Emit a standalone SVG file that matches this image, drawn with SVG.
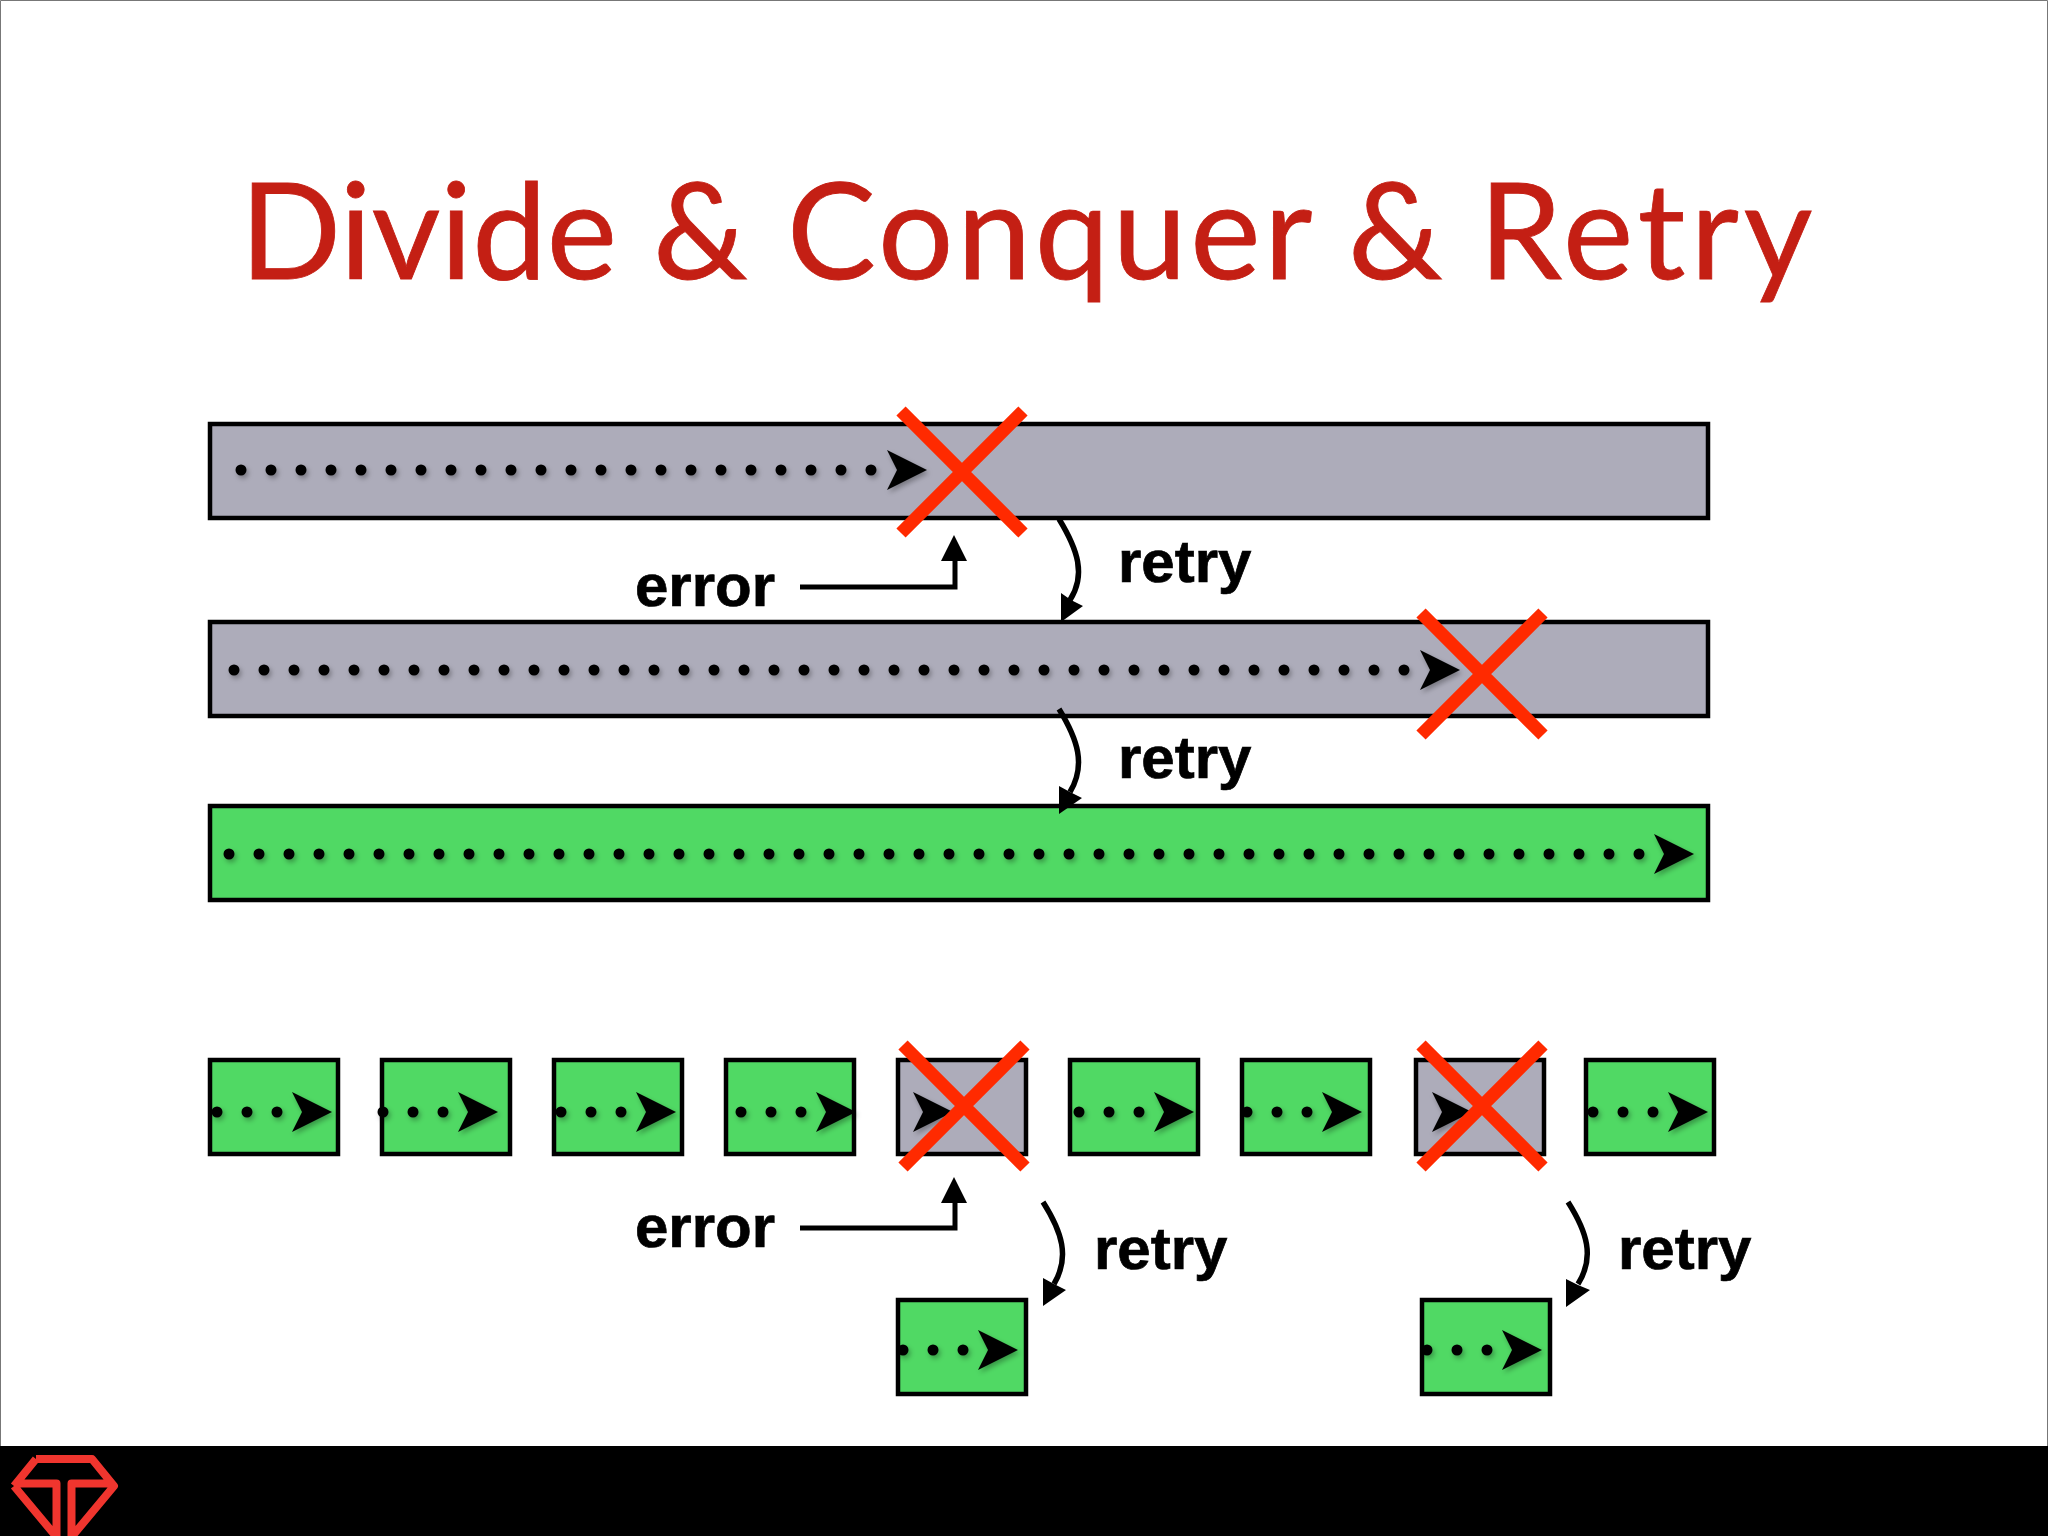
<svg xmlns="http://www.w3.org/2000/svg" width="2048" height="1536" viewBox="0 0 2048 1536">
<defs>
<filter id="sh" filterUnits="userSpaceOnUse" x="-300" y="-1600" width="2700" height="3400"><feDropShadow dx="2" dy="3" stdDeviation="2.5" flood-color="#000" flood-opacity=".3"/></filter>
<path id="arr" d="M0,-20 L40,0 L0,20 L10,0 Z"/>
<path id="xmark" d="M-61,-61 L61,61 M61,-61 L-61,61"/>
<g id="tiny"><circle class="dot" cx="0" cy="0" r="5.5"/><circle class="dot" cx="30" cy="0" r="5.5"/><circle class="dot" cx="60" cy="0" r="5.5"/><use href="#arr" x="75" y="0" class="head"/></g>
</defs>
<style>
text{font-family:"Liberation Sans",Arial,Helvetica,sans-serif;font-weight:700;font-size:60px;fill:#000;stroke:#000;stroke-width:.7px}
.title{font-family:Lato,"Liberation Sans",sans-serif;font-weight:400;font-size:133px;fill:#c41f14;stroke:#c41f14;stroke-width:.8px}
.gray{fill:#adacba;stroke:#000;stroke-width:4.5}
.green{fill:#50d964;stroke:#000;stroke-width:4.5}
.dotline{fill:none;stroke:#000;stroke-width:11;stroke-linecap:round;stroke-dasharray:0 30;filter:url(#sh)}
.dot{fill:#000;filter:url(#sh)}
.head{fill:#000;filter:url(#sh)}
.x{fill:none;stroke:#ff2a00;stroke-width:13}
.elbow{fill:none;stroke:#000;stroke-width:5}
.curve{fill:none;stroke:#000;stroke-width:5.5}
.tip{fill:#000}
</style>
<rect width="2048" height="1536" fill="#fff"/>
<path d="M.5,1446 V.5 H2047.5 V1446" fill="none" stroke="#777" stroke-width="1"/>
<text class="title" y="279"><tspan x="240">Divide</tspan> <tspan x="653">&amp;</tspan> <tspan x="787" letter-spacing="3.5">Conquer</tspan> <tspan x="1348">&amp;</tspan> <tspan x="1479" letter-spacing="5">Retry</tspan></text>

<g id="bar1"><rect class="gray" x="210" y="424" width="1498" height="94"/><line class="dotline" x1="241" y1="470" x2="872" y2="470"/><use class="head" href="#arr" x="887" y="470"/></g>
<g id="bar2"><rect class="gray" x="210" y="622" width="1498" height="94"/><line class="dotline" x1="234" y1="670" x2="1405" y2="670"/><use class="head" href="#arr" x="1420" y="670"/></g>
<g id="bar3"><rect class="green" x="210" y="806" width="1498" height="94"/><line class="dotline" x1="229" y1="854" x2="1640" y2="854"/><use class="head" href="#arr" x="1654" y="854"/></g>

<g id="box1"><rect class="green" x="210" y="1060" width="128" height="94"/><use href="#tiny" x="217" y="1112"/></g>
<g id="box2"><rect class="green" x="382" y="1060" width="128" height="94"/><use href="#tiny" x="383" y="1112"/></g>
<g id="box3"><rect class="green" x="554" y="1060" width="128" height="94"/><use href="#tiny" x="561" y="1112"/></g>
<g id="box4"><rect class="green" x="726" y="1060" width="128" height="94"/><use href="#tiny" x="741" y="1112"/></g>
<g id="box5"><rect class="gray" x="898" y="1060" width="128" height="94"/><use class="head" href="#arr" x="913" y="1112"/></g>
<g id="box6"><rect class="green" x="1070" y="1060" width="128" height="94"/><use href="#tiny" x="1079" y="1112"/></g>
<g id="box7"><rect class="green" x="1242" y="1060" width="128" height="94"/><use href="#tiny" x="1247" y="1112"/></g>
<g id="box8"><rect class="gray" x="1416" y="1060" width="128" height="94"/><use class="head" href="#arr" x="1432" y="1112"/></g>
<g id="box9"><rect class="green" x="1586" y="1060" width="128" height="94"/><use href="#tiny" x="1593" y="1112"/></g>
<g id="box10"><rect class="green" x="898" y="1300" width="128" height="94"/><use href="#tiny" x="903" y="1350"/></g>
<g id="box11"><rect class="green" x="1422" y="1300" width="128" height="94"/><use href="#tiny" x="1427" y="1350"/></g>

<g id="crosses">
<use class="x" href="#xmark" transform="translate(962 472)"/>
<use class="x" href="#xmark" transform="translate(1482 674)"/>
<use class="x" href="#xmark" transform="translate(964 1106)"/>
<use class="x" href="#xmark" transform="translate(1482 1106)"/>
</g>

<g id="connectors">
<path class="elbow" d="M800,587 H955 V555"/><path class="tip" d="M954,535 L967,561 H941 Z"/>
<path class="curve" d="M1059,519 C1078,550 1086,575 1070,600"/><path class="tip" d="M1061,622 V593 L1071,600 L1083,606 Z"/>
<path class="curve" d="M1059,709 C1078,740 1086,765 1070,792"/><path class="tip" d="M1059,814 V786 L1070,792 L1082,798 Z"/>
<path class="elbow" d="M800,1228 H955 V1197"/><path class="tip" d="M954,1177 L967,1203 H941 Z"/>
<path class="curve" d="M1043,1202 C1062,1232 1070,1257 1054,1284"/><path class="tip" d="M1043,1306 V1278 L1054,1284 L1066,1290 Z"/>
<path class="curve" d="M1568,1202 C1587,1232 1595,1257 1578,1284"/><path class="tip" d="M1566,1307 V1279 L1578,1285 L1590,1290 Z"/>
</g>

<g id="labels">
<text x="635" y="606">error</text>
<text x="1118" y="582">retry</text>
<text x="1118" y="778">retry</text>
<text x="635" y="1247">error</text>
<text x="1094" y="1269">retry</text>
<text x="1618" y="1269">retry</text>
</g>

<rect id="footer" x="0" y="1446" width="2048" height="90" fill="#000"/>
<path id="logo" d="M36,1459 H92 L114,1486 L71.5,1537 V1483.5 H114 M14,1486 L36,1459 M14,1486 L56.5,1537 V1483.5 H14" fill="none" stroke="#f0352e" stroke-width="8" stroke-linejoin="round"/>
</svg>
